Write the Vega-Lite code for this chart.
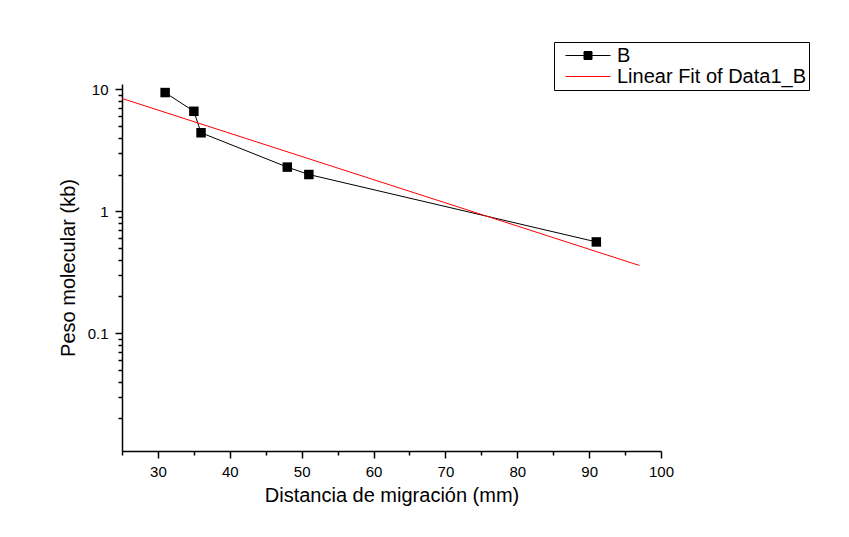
{
  "$schema": "https://vega.github.io/schema/vega-lite/v6.json",
  "width": 539,
  "height": 367,
  "autosize": {"type": "none"},
  "padding": {"left": 122, "top": 84, "right": 188, "bottom": 86},
  "background": "white",
  "config": {
    "view": {"stroke": null},
    "font": "Liberation Sans",
    "axis": {
      "grid": false,
      "labelFont": "Liberation Sans",
      "titleFont": "Liberation Sans",
      "labelColor": "black",
      "titleColor": "black",
      "titleFontWeight": "normal",
      "domainColor": "black",
      "tickColor": "black"
    }
  },
  "data": {
    "values": [
      {"x": 31, "y": 9.4, "series": "B"},
      {"x": 35, "y": 6.6, "series": "B"},
      {"x": 36, "y": 4.4, "series": "B"},
      {"x": 48, "y": 2.3, "series": "B"},
      {"x": 51, "y": 2.0, "series": "B"},
      {"x": 91, "y": 0.56, "series": "B"},
      {"x": 25, "y": 8.41, "series": "Linear Fit of Data1_B"},
      {"x": 97, "y": 0.359, "series": "Linear Fit of Data1_B"}
    ]
  },
  "layer": [
    {
      "mark": {"type": "line", "strokeWidth": 1},
      "encoding": {
        "x": {
          "field": "x", "type": "quantitative",
          "scale": {"domain": [25, 100], "nice": false, "zero": false},
          "axis": {
            "values": [30, 40, 50, 60, 70, 80, 90, 100],
            "tickSize": 7, "tickWidth": 1.5, "domainWidth": 1.5,
            "labelFontSize": 15, "labelPadding": 6, "labelFlush": false,
            "title": "Distancia de migración (mm)", "titleFontSize": 20, "titlePadding": 6
          }
        },
        "y": {
          "field": "y", "type": "quantitative",
          "scale": {"type": "log", "domain": [0.0108, 11.05], "nice": false},
          "axis": {
            "values": [0.1, 1, 10], "format": "~g",
            "tickSize": 7, "tickWidth": 1.5, "domainWidth": 1.5,
            "labelFontSize": 15, "labelPadding": 7,
            "title": "Peso molecular (kb)", "titleFontSize": 20, "titlePadding": 9
          }
        },
        "color": {
          "field": "series", "type": "nominal",
          "scale": {"domain": ["B", "Linear Fit of Data1_B"], "range": ["black", "#ff0000"]},
          "legend": {
            "title": null,
            "orient": "none",
            "legendX": 432,
            "legendY": -42,
            "direction": "vertical",
            "strokeColor": "black",
            "fillColor": "white",
            "padding": 3,
            "cornerRadius": 0,
            "labelFontSize": 20,
            "labelFont": "Liberation Sans",
            "labelColor": "black",
            "labelOffset": 18.5,
            "symbolOffset": 20.5,
            "symbolSize": 400,
            "symbolStrokeWidth": 1,
            "rowPadding": -1,
            "labelLimit": 400,
            "encode": {
              "symbols": {
                "update": {
                  "shape": {"signal": "datum.value === 'B' ? 'M-2.25,0H2.25M-0.4,-0.4H0.4V0.4H-0.4Z' : 'M-2.25,0H2.25'"},
                  "fill": {"signal": "datum.value === 'B' ? 'black' : 'transparent'"},
                  "stroke": {"signal": "datum.value === 'B' ? 'black' : '#ff0000'"},
                  "strokeWidth": {"value": 1},
                  "opacity": {"value": 1}
                }
              }
            }
          }
        }
      }
    },
    {
      "transform": [{"filter": "datum.series === 'B'"}],
      "mark": {"type": "point", "shape": "square", "filled": true, "size": 90, "color": "black", "opacity": 1},
      "encoding": {
        "x": {
          "field": "x", "type": "quantitative",
          "scale": {"domain": [25, 100], "nice": false, "zero": false},
          "axis": {
            "orient": "bottom",
            "values": [25, 35, 45, 55, 65, 75, 85, 95],
            "tickSize": 4, "tickWidth": 1.5, "labels": false, "domain": false, "title": null
          }
        },
        "y": {
          "field": "y", "type": "quantitative",
          "scale": {"type": "log", "domain": [0.0108, 11.05], "nice": false},
          "axis": {
            "orient": "left",
            "values": [0.02, 0.03, 0.04, 0.05, 0.06, 0.07, 0.08, 0.09, 0.2, 0.3, 0.4, 0.5, 0.6, 0.7, 0.8, 0.9, 2, 3, 4, 5, 6, 7, 8, 9],
            "tickSize": 4, "tickWidth": 1.5, "labels": false, "domain": false, "title": null
          }
        }
      }
    }
  ],
  "resolve": {"axis": {"x": "independent", "y": "independent"}}
}
